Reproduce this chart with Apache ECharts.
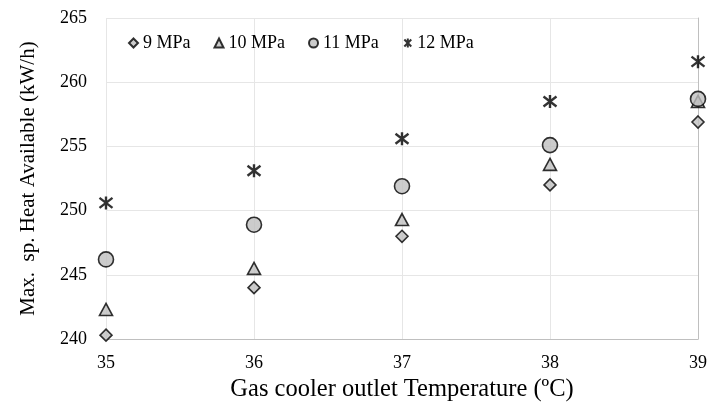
<!DOCTYPE html>
<html><head><meta charset="utf-8">
<script src="https://cdn.jsdelivr.net/npm/echarts@6/dist/echarts.min.js"></script>
<style>html,body{margin:0;padding:0;background:#fff}#c{width:708px;height:404px}</style>
</head><body><div id="c"></div>
<script>
const temps = [35, 36, 37, 38, 39];
const s9 = [240.3, 244.0, 248.0, 252.0, 256.9];
const s10 = [242.3, 245.5, 249.3, 253.6, 258.5];
const s11 = [246.2, 248.9, 251.9, 255.1, 258.7];
const s12 = [250.6, 253.1, 255.6, 258.5, 261.6];
const names = ['9 MPa', '10 MPa', '11 MPa', '12 MPa'];
const yTicks = [240, 265, 5];

const star = 'path://M0,0L10,10M10,0L0,10M5,-1.5L5,11.5';
const font = 'Liberation Serif';
function mk(name, vals, symbol, size, fill, bw) {
  return {
    name, type: 'scatter', data: temps.map((t, i) => [t, vals[i]]),
    symbol, symbolSize: size,
    itemStyle: { color: fill, borderColor: '#000', borderWidth: bw },
    z: 3
  };
}
const chart = echarts.init(document.getElementById('c'));
chart.setOption({
  animation: false,
  grid: { left: 106, right: 10, top: 18, bottom: 65, outerBoundsMode: 'none', containLabel: false },
  legend: {
    top: 29, left: 123, itemGap: 23, itemWidth: 9, itemHeight: 9,
    textStyle: { fontFamily: font, fontSize: 18, color: '#000' },
    data: names
  },
  xAxis: {
    type: 'value', min: 35, max: 39, interval: 1,
    name: 'Gas cooler outlet Temperature (ºC)', nameLocation: 'middle', nameGap: 31,
    nameTextStyle: { fontFamily: font, fontSize: 24.5, color: '#000' },
    axisLine: { show: true, lineStyle: { color: '#bfbfbf' } },
    axisTick: { show: false },
    axisLabel: { fontFamily: font, fontSize: 18, color: '#000', margin: 15 },
    splitLine: { show: true, lineStyle: { color: '#e6e6e6' } }
  },
  yAxis: [{
    type: 'value', min: yTicks[0], max: yTicks[1], interval: yTicks[2],
    name: 'Max.  sp. Heat Available (kW/h)', nameLocation: 'middle', nameGap: 67,
    nameTextStyle: { fontFamily: font, fontSize: 21, color: '#000' },
    axisLine: { show: false },
    axisTick: { show: false },
    axisLabel: { fontFamily: font, fontSize: 18, color: '#000', margin: 19 },
    splitLine: { show: true, lineStyle: { color: '#e6e6e6' } }
  }, {
    type: 'value', position: 'right', min: yTicks[0], max: yTicks[1], interval: yTicks[2],
    axisLine: { show: true, lineStyle: { color: '#bfbfbf' } },
    axisTick: { show: false }, axisLabel: { show: false }, splitLine: { show: false }
  }],
  series: [
    mk(names[0], s9, 'diamond', [12, 12], '#bfbfbf', 1.6),
    mk(names[1], s10, 'triangle', [13, 12], '#bfbfbf', 1.6),
    mk(names[2], s11, 'circle', 15, '#bfbfbf', 1.6),
    mk(names[3], s12, star, [13, 13], 'none', 2.4)
  ]
});
</script></body></html>
